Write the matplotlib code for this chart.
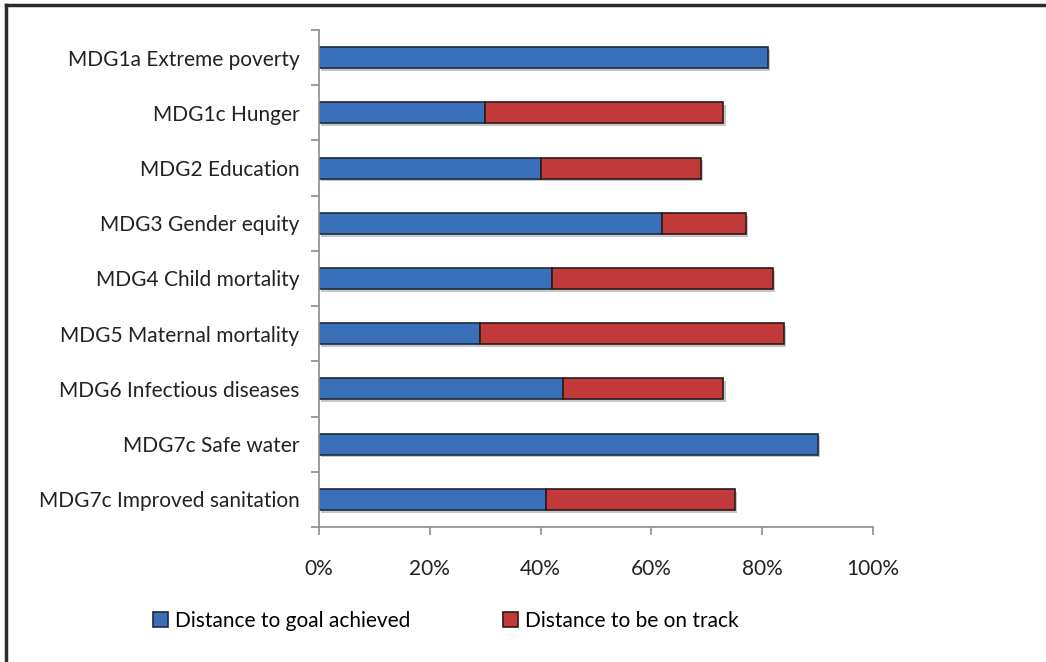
import matplotlib
matplotlib.use("Agg")
import matplotlib.pyplot as plt
import matplotlib.patheffects as pe
from matplotlib.lines import Line2D
from matplotlib.patches import Patch
import numpy as np

categories = ["MDG1a Extreme poverty", "MDG1c Hunger", "MDG2 Education",
              "MDG3 Gender equity", "MDG4 Child mortality", "MDG5 Maternal mortality",
              "MDG6 Infectious diseases", "MDG7c Safe water", "MDG7c Improved sanitation"]
goal_achieved = [81, 30, 40, 62, 42, 29, 44, 90, 41]
to_be_on_track = [0, 43, 29, 15, 40, 55, 29, 0, 34]
xticks = [0, 20, 40, 60, 80, 100]

plt.rcParams['font.family'] = ['Lato', 'DejaVu Sans']

blue = "#3A70BA"
red = "#C2393A"
grey = "#8c8c8c"

fig = plt.figure(figsize=(10.46, 6.62), dpi=100)
ax = fig.add_axes([319/1046, 1 - 527/662, (873-319)/1046, (527-30)/662])

y = np.arange(len(categories))[::-1]
shadow = [pe.SimplePatchShadow(offset=(1.5, -2), alpha=0.25), pe.Normal()]
b1 = ax.barh(y, goal_achieved, height=0.38, color=blue, edgecolor="#1f2a3a", linewidth=1.2)
b2 = ax.barh(y, to_be_on_track, left=goal_achieved, height=0.38, color=red, edgecolor="#2a1a1a", linewidth=1.2)
for bars, vals in ((b1, goal_achieved), (b2, to_be_on_track)):
    for r, v in zip(bars, vals):
        if v == 0:
            r.set_visible(False)
        else:
            r.set_path_effects(shadow)

ax.set_xlim(0, 100)
ax.set_ylim(-0.5, len(categories) - 0.5)
ax.set_xticks(xticks)
ax.set_xticklabels([f"{t}%" for t in xticks], fontsize=15, color="#222222")
ax.set_yticks(y)
ax.set_yticklabels(categories, fontsize=15, color="#222222")
ax.set_yticks(np.arange(len(categories) + 1) - 0.5, minor=True)
ax.tick_params(axis="y", which="major", length=0, pad=14)
ax.tick_params(axis="y", which="minor", length=6, color=grey, width=1.2)
ax.tick_params(axis="x", length=6, color=grey, width=1.2, direction="out", pad=17)
for s in ("top", "right"):
    ax.spines[s].set_visible(False)
for s in ("left", "bottom"):
    ax.spines[s].set_color(grey)
    ax.spines[s].set_linewidth(1.2)

handles = [Patch(facecolor=blue, edgecolor="#1f2a3a", linewidth=1.2),
           Patch(facecolor=red, edgecolor="#2a1a1a", linewidth=1.2)]
fig.legend(handles, ["Distance to goal achieved", "Distance to be on track"],
           loc="center", bbox_to_anchor=(446/1046, 1 - 621/662), ncol=2, frameon=False,
           fontsize=15, handlelength=0.7, handleheight=0.7, handletextpad=0.35,
           columnspacing=4.45)

# frame visible on top and left edges
fig.add_artist(Line2D([5.5/1046, 5.5/1046], [0, 1 - 5/662], transform=fig.transFigure, color="#2b2b2b", lw=2.5))
fig.add_artist(Line2D([5.5/1046, 1], [1 - 5/662, 1 - 5/662], transform=fig.transFigure, color="#2b2b2b", lw=2.5))

fig.savefig("out.png", dpi=100)
